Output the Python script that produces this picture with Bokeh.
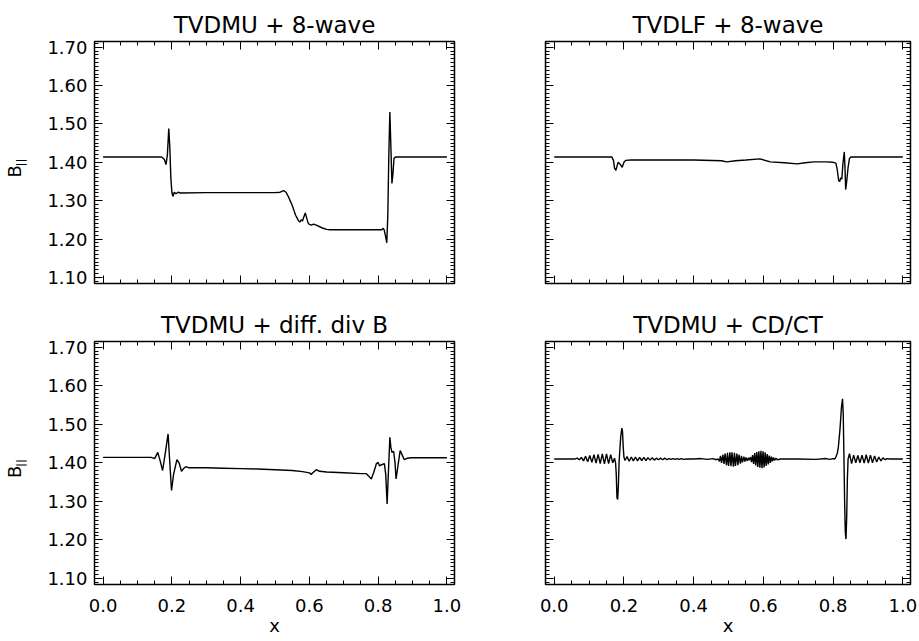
import numpy as np
from bokeh.plotting import figure
from bokeh.models import (LinearAxis, FixedTicker, PrintfTickFormatter, Range1d,
                          Title, CustomJSTickFormatter)
from bokeh.layouts import column, row
from bokeh.embed import file_html
from bokeh.resources import INLINE

# ---------------- data ----------------
titles = ["TVDMU + 8-wave", "TVDLF + 8-wave", "TVDMU + diff. div B", "TVDMU + CD/CT"]

y_major = [1.10, 1.20, 1.30, 1.40, 1.50, 1.60, 1.70]
y_minor = [round(1.08 + 0.01 * i, 2) for i in range(65)]
x_major = [0.0, 0.2, 0.4, 0.6, 0.8, 1.0]
x_minor = [round(-0.05 + 0.05 * i, 2) for i in range(23)]

# TVDMU + 8-wave
tl_xy = [(0.0, 1.414), (0.170, 1.414), (0.178, 1.408), (0.183, 1.394), (0.187, 1.420),
         (0.191, 1.488), (0.194, 1.440), (0.197, 1.360), (0.200, 1.322), (0.203, 1.311),
         (0.207, 1.322), (0.212, 1.318), (0.218, 1.322), (0.225, 1.320), (0.30, 1.321),
         (0.40, 1.321), (0.50, 1.321), (0.515, 1.322), (0.525, 1.326), (0.532, 1.322),
         (0.538, 1.312), (0.543, 1.302), (0.548, 1.292), (0.552, 1.283), (0.556, 1.272),
         (0.560, 1.262), (0.564, 1.255), (0.568, 1.248), (0.572, 1.244), (0.576, 1.250),
         (0.580, 1.247), (0.584, 1.258), (0.588, 1.268), (0.592, 1.255), (0.596, 1.242),
         (0.600, 1.238), (0.606, 1.236), (0.612, 1.239), (0.620, 1.236), (0.630, 1.232),
         (0.640, 1.228), (0.650, 1.225), (0.660, 1.224), (0.70, 1.224), (0.75, 1.224),
         (0.80, 1.224), (0.810, 1.224), (0.815, 1.228), (0.818, 1.222), (0.822, 1.205),
         (0.825, 1.190), (0.828, 1.260), (0.831, 1.420), (0.834, 1.531), (0.837, 1.440),
         (0.840, 1.345), (0.843, 1.370), (0.846, 1.410), (0.850, 1.414), (0.86, 1.414),
         (0.90, 1.414), (1.0, 1.414)]

# TVDLF + 8-wave
tr_xy = [(0.0, 1.414), (0.165, 1.414), (0.170, 1.405), (0.173, 1.385), (0.177, 1.379),
         (0.183, 1.400), (0.189, 1.395), (0.195, 1.387), (0.200, 1.400), (0.205, 1.405),
         (0.22, 1.406), (0.30, 1.406), (0.40, 1.406), (0.48, 1.404), (0.495, 1.401),
         (0.52, 1.404), (0.55, 1.406), (0.59, 1.409), (0.62, 1.401), (0.66, 1.399),
         (0.697, 1.396), (0.72, 1.399), (0.745, 1.401), (0.78, 1.401), (0.800, 1.400),
         (0.808, 1.398), (0.812, 1.380), (0.816, 1.352), (0.819, 1.350), (0.822, 1.360),
         (0.825, 1.356), (0.828, 1.395), (0.832, 1.427), (0.834, 1.390), (0.836, 1.329),
         (0.839, 1.350), (0.843, 1.387), (0.847, 1.410), (0.851, 1.414), (0.90, 1.414),
         (1.0, 1.414)]

# TVDMU + diff. div B
bl_xy = [(0.0, 1.414), (0.140, 1.414), (0.150, 1.411), (0.159, 1.427), (0.166, 1.405),
         (0.173, 1.380), (0.180, 1.420), (0.189, 1.475), (0.194, 1.400), (0.199, 1.328),
         (0.205, 1.370), (0.2146, 1.408), (0.221, 1.400), (0.228, 1.378), (0.234, 1.385),
         (0.2405, 1.390), (0.25, 1.387), (0.30, 1.387), (0.35, 1.386), (0.40, 1.385),
         (0.45, 1.384), (0.50, 1.382), (0.55, 1.380), (0.58, 1.377), (0.600, 1.374),
         (0.605, 1.370), (0.610, 1.374), (0.620, 1.382), (0.630, 1.378), (0.650, 1.376),
         (0.70, 1.374), (0.75, 1.372), (0.765, 1.372), (0.772, 1.366), (0.780, 1.358),
         (0.787, 1.375), (0.795, 1.398), (0.800, 1.401), (0.804, 1.392), (0.810, 1.395),
         (0.818, 1.398), (0.822, 1.370), (0.826, 1.293), (0.830, 1.380), (0.834, 1.466),
         (0.837, 1.440), (0.840, 1.427), (0.845, 1.430), (0.849, 1.400), (0.852, 1.358),
         (0.858, 1.395), (0.864, 1.432), (0.870, 1.420), (0.876, 1.408), (0.885, 1.412),
         (0.895, 1.413), (1.0, 1.413)]

# TVDMU + CD/CT
br_xy = [(0.0, 1.410), (0.060, 1.410), (0.066, 1.412), (0.072, 1.408), (0.078, 1.414),
         (0.084, 1.405), (0.090, 1.417), (0.096, 1.403), (0.102, 1.419), (0.108, 1.401),
         (0.114, 1.421), (0.120, 1.399), (0.126, 1.422), (0.132, 1.398), (0.138, 1.423),
         (0.144, 1.397), (0.150, 1.423), (0.156, 1.398), (0.162, 1.421), (0.168, 1.400),
         (0.173, 1.412), (0.176, 1.400), (0.178, 1.370), (0.180, 1.310), (0.182, 1.305),
         (0.184, 1.340), (0.186, 1.400), (0.188, 1.430), (0.191, 1.470), (0.194, 1.490),
         (0.196, 1.480), (0.198, 1.440), (0.200, 1.415), (0.203, 1.406), (0.209, 1.416),
         (0.215, 1.404), (0.221, 1.415), (0.227, 1.405), (0.233, 1.415), (0.239, 1.405),
         (0.245, 1.414), (0.251, 1.406), (0.257, 1.414), (0.263, 1.406), (0.269, 1.413),
         (0.275, 1.407), (0.281, 1.413), (0.287, 1.407), (0.293, 1.412), (0.299, 1.408),
         (0.305, 1.412), (0.311, 1.408), (0.317, 1.412), (0.323, 1.408), (0.329, 1.411),
         (0.335, 1.409), (0.341, 1.411), (0.347, 1.409), (0.353, 1.411), (0.359, 1.409),
         (0.365, 1.411), (0.371, 1.409), (0.380, 1.410), (0.400, 1.410), (0.420, 1.411),
         (0.440, 1.409), (0.455, 1.411), (0.465, 1.408), (0.470, 1.410), (0.474, 1.404),
         (0.477, 1.418), (0.480, 1.400), (0.484, 1.421), (0.487, 1.397), (0.490, 1.424),
         (0.494, 1.394), (0.497, 1.426), (0.500, 1.392), (0.504, 1.427), (0.507, 1.391),
         (0.510, 1.427), (0.514, 1.390), (0.517, 1.426), (0.520, 1.392), (0.524, 1.424),
         (0.527, 1.394), (0.530, 1.421), (0.534, 1.398), (0.537, 1.418), (0.540, 1.401),
         (0.544, 1.416), (0.547, 1.403), (0.550, 1.414), (0.554, 1.405), (0.557, 1.413),
         (0.560, 1.407), (0.563, 1.415), (0.566, 1.402), (0.569, 1.420), (0.572, 1.397),
         (0.575, 1.425), (0.578, 1.393), (0.581, 1.428), (0.584, 1.389), (0.587, 1.430),
         (0.590, 1.387), (0.593, 1.431), (0.596, 1.386), (0.599, 1.430), (0.602, 1.388),
         (0.605, 1.427), (0.608, 1.392), (0.611, 1.423), (0.614, 1.396), (0.617, 1.419),
         (0.620, 1.400), (0.623, 1.416), (0.626, 1.404), (0.629, 1.414), (0.632, 1.406),
         (0.636, 1.412), (0.640, 1.408), (0.650, 1.410), (0.700, 1.410), (0.750, 1.409),
         (0.780, 1.411), (0.790, 1.409), (0.800, 1.411), (0.805, 1.410), (0.808, 1.415),
         (0.812, 1.425), (0.815, 1.440), (0.820, 1.490), (0.824, 1.545), (0.827, 1.566),
         (0.829, 1.530), (0.831, 1.420), (0.833, 1.300), (0.835, 1.220), (0.837, 1.202),
         (0.839, 1.260), (0.841, 1.360), (0.843, 1.410), (0.847, 1.424), (0.853, 1.398),
         (0.859, 1.420), (0.865, 1.400), (0.871, 1.419), (0.877, 1.400), (0.883, 1.420),
         (0.889, 1.399), (0.895, 1.421), (0.901, 1.399), (0.907, 1.420), (0.913, 1.400),
         (0.919, 1.418), (0.925, 1.402), (0.931, 1.415), (0.937, 1.405), (0.943, 1.413),
         (0.949, 1.408), (0.955, 1.411), (0.962, 1.410), (1.0, 1.410)]

series = [tl_xy, tr_xy, bl_xy, br_xy]

FONT = "DejaVu Sans"
X_RANGE = (-0.025, 1.022)
Y_RANGE = (1.084, 1.715)

# layout (pixels)
LEFT_W, RIGHT_W = 464, 453
TOP_H, BOT_H = 291, 349


def style_axis(ax, major, minor, fmt):
    ax.ticker = FixedTicker(ticks=major, minor_ticks=minor)
    ax.major_tick_in = 8
    ax.major_tick_out = 0
    ax.minor_tick_in = 4
    ax.minor_tick_out = 0
    ax.major_tick_line_color = "black"
    ax.minor_tick_line_color = "black"
    ax.major_tick_line_width = 1
    ax.minor_tick_line_width = 1
    ax.axis_line_color = None
    if fmt is None:
        ax.formatter = CustomJSTickFormatter(code="return '';")
        ax.major_label_standoff = 0
        ax.major_label_text_font_size = "1px"
    else:
        ax.formatter = PrintfTickFormatter(format=fmt)
        ax.major_label_text_font = FONT
        ax.major_label_text_font_size = "18px"
        ax.major_label_text_color = "black"


def make_panel(i, left_col, bottom_row):
    width = LEFT_W if left_col else RIGHT_W
    height = BOT_H if bottom_row else TOP_H
    bl = 94 if left_col else 81
    br = 10 if left_col else 7
    bt = 50 if bottom_row else 41
    bb = 56 if bottom_row else 8
    p = figure(width=width, height=height, output_backend="svg", toolbar_location=None,
               x_range=Range1d(*X_RANGE), y_range=Range1d(*Y_RANGE),
               x_axis_location=None, y_axis_location=None,
               min_border_left=bl, min_border_right=br,
               min_border_top=bt, min_border_bottom=bb)
    p.grid.visible = False
    p.outline_line_color = "black"
    p.outline_line_width = 1.5
    p.background_fill_color = "white"
    p.border_fill_color = "white"
    p.title.text = titles[i]
    p.title.align = "center"
    p.title.text_font = FONT
    p.title.text_font_size = "23px"
    p.title.text_font_style = "normal"
    p.title.text_color = "black"
    p.title.standoff = 8

    fh = height - bt - bb

    ax_l = LinearAxis()
    style_axis(ax_l, y_major, y_minor, "%.2f" if left_col else None)
    if left_col:
        ax_l.major_label_standoff = 7
        # subscript of the y label
        ax_l.axis_label = "||"
        ax_l.axis_label_text_font = FONT
        ax_l.axis_label_text_font_size = "11px"
        ax_l.axis_label_text_font_style = "bold"
        ax_l.axis_label_text_color = "black"
        ax_l.axis_label_standoff = 17
    ax_r = LinearAxis()
    style_axis(ax_r, y_major, y_minor, None)
    ax_b = LinearAxis()
    style_axis(ax_b, x_major, x_minor, "%.1f" if bottom_row else None)
    if bottom_row:
        ax_b.major_label_standoff = 14
        ax_b.axis_label = "x"
        ax_b.axis_label_text_font = FONT
        ax_b.axis_label_text_font_size = "18px"
        ax_b.axis_label_text_font_style = "normal"
        ax_b.axis_label_text_color = "black"
        ax_b.axis_label_standoff = 0
    ax_t = LinearAxis()
    style_axis(ax_t, x_major, x_minor, None)
    p.add_layout(ax_l, "left")
    p.add_layout(ax_r, "right")
    p.add_layout(ax_b, "below")
    p.add_layout(ax_t, "above")

    if left_col:
        p.add_layout(Title(text="B", align="left", offset=fh / 2 - 15,
                           vertical_align="bottom", standoff=-27,
                           text_font=FONT, text_font_size="18px",
                           text_font_style="normal", text_color="black"), "left")

    xs = [pt[0] for pt in series[i]]
    ys = [pt[1] for pt in series[i]]
    p.line(xs, ys, line_color="black", line_width=1.4)
    return p


p1 = make_panel(0, True, False)
p2 = make_panel(1, False, False)
p3 = make_panel(2, True, True)
p4 = make_panel(3, False, True)

layout = column(row(p1, p2), row(p3, p4))

with open("out.html", "w") as f:
    f.write(file_html(layout, INLINE))
